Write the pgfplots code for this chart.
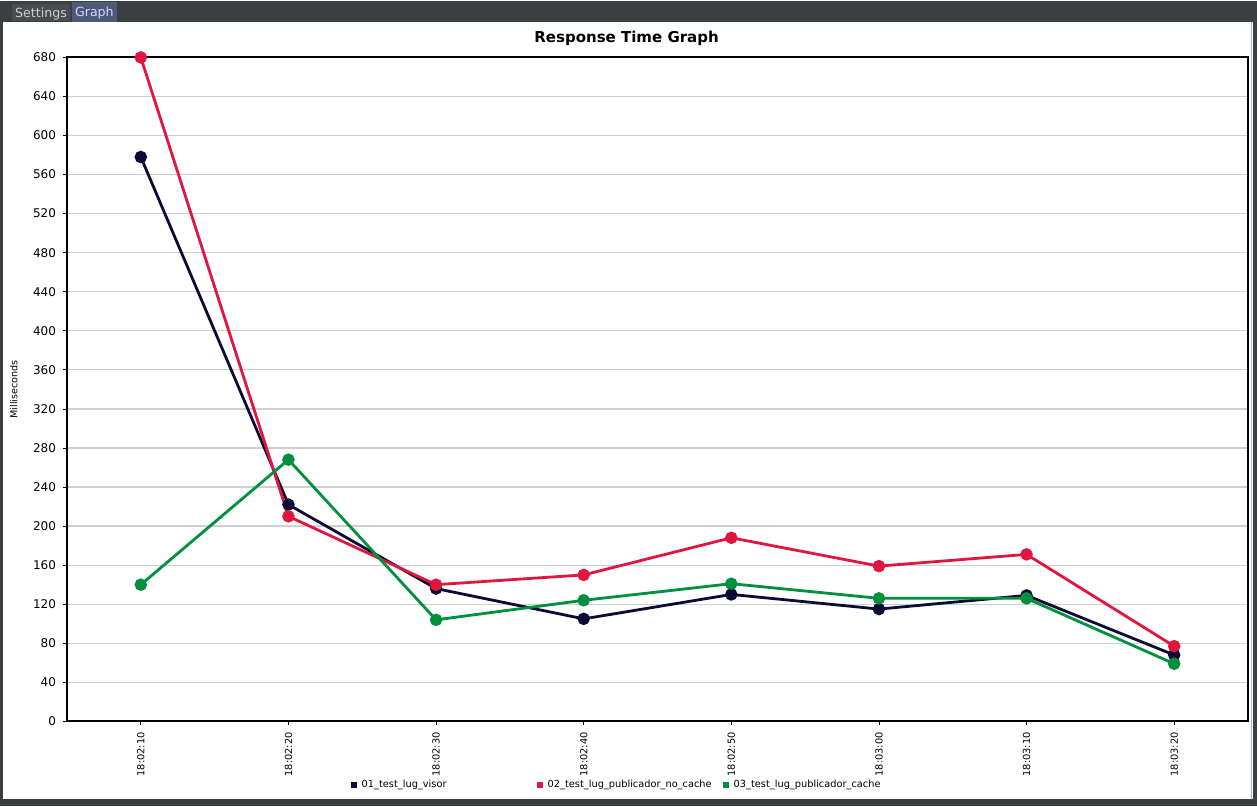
\documentclass[border=0pt]{standalone}
\usepackage{pgfplots}
\pgfplotsset{compat=1.18}
\usepackage{fontspec}
\setmainfont{DejaVu Sans}
\definecolor{winframe}{HTML}{3C3F41}
\definecolor{tabset}{HTML}{4A4D50}
\definecolor{tabgraph}{HTML}{4B5A78}
\definecolor{sNavy}{HTML}{0B0B35}
\definecolor{sRed}{HTML}{E0163F}
\definecolor{sGreen}{HTML}{00903E}
\definecolor{gridc}{HTML}{CFCFCF}
\begin{document}
\begin{tikzpicture}[x=1pt,y=1pt]
\fill[winframe] (0,0) rectangle (628.5,402.5);
\fill[white] (1.5,3.5) rectangle (626.5,392);
\draw[gray!60, line width=0.8pt] (625.8,3.5) -- (625.8,392);
\fill[tabset] (6,392.5) rectangle (35,401);
\fill[tabgraph] (36,392) rectangle (58.5,402);
\node[text=white!80!black,font=\fontsize{6.3}{7}\selectfont] at (20.5,396.3) {Settings};
\node[text=white!85!blue,font=\fontsize{6.3}{7}\selectfont] at (47.2,396.8) {Graph};
\node[font=\bfseries\fontsize{7.5}{9}\selectfont] at (313.3,384) {Response Time Graph};
\useasboundingbox (0,0) rectangle (628.5,402.5);
\begin{axis}[
  at={(33.5pt,42.5pt)}, anchor=south west,
  scale only axis, width=590.5pt, height=332pt,
  xmin=-0.5, xmax=7.5, ymin=0, ymax=680,
  xtick={0,...,7},
  xticklabels={18:02:10,18:02:20,18:02:30,18:02:40,18:02:50,18:03:00,18:03:10,18:03:20},
  xticklabel style={rotate=90, anchor=east, font=\fontsize{4.9}{6}\selectfont},
  ytick={0,40,...,680},
  yticklabel style={font=\fontsize{6}{7}\selectfont},
  /pgf/number format/assume math mode=true,
  tick align=outside, tick pos=left, major tick length=2pt,
  tick style={black, line width=0.4pt},
  ymajorgrids, grid style={gridc, line width=0.6pt},
  axis line style={black, line width=0.9pt},
  ylabel={Milliseconds},
  ylabel style={font=\fontsize{4.8}{6}\selectfont, at={(axis description cs:-0.045,0.5)}, anchor=center},
  legend columns=3,
  legend style={draw=none, fill=none, at={(axis description cs:0.4765,-0.096)}, anchor=center,
    font=\fontsize{4.9}{6}\selectfont, nodes={text width=85pt, align=left, inner ysep=1pt, inner xsep=2.5pt}},
  legend image code/.code={\fill[#1, draw=none] (0pt,-1.5pt) rectangle (3pt,1.5pt);},
  every axis plot/.append style={line width=1.4pt, mark=*, mark size=2.4pt},
  clip=false,
]
\addplot[sNavy, mark options={fill=sNavy}] coordinates {(0,578) (1,222) (2,136) (3,105) (4,130) (5,115) (6,129) (7,68)};
\addlegendentry{01\_test\_lug\_visor}
\addplot[sRed, mark options={fill=sRed}] coordinates {(0,680) (1,210) (2,140) (3,150) (4,188) (5,159) (6,171) (7,77)};
\addlegendentry{02\_test\_lug\_publicador\_no\_cache}
\addplot[sGreen, mark options={fill=sGreen}] coordinates {(0,140) (1,268) (2,104) (3,124) (4,141) (5,126) (6,126) (7,59)};
\addlegendentry{03\_test\_lug\_publicador\_cache}
\end{axis}
\end{tikzpicture}
\end{document}
